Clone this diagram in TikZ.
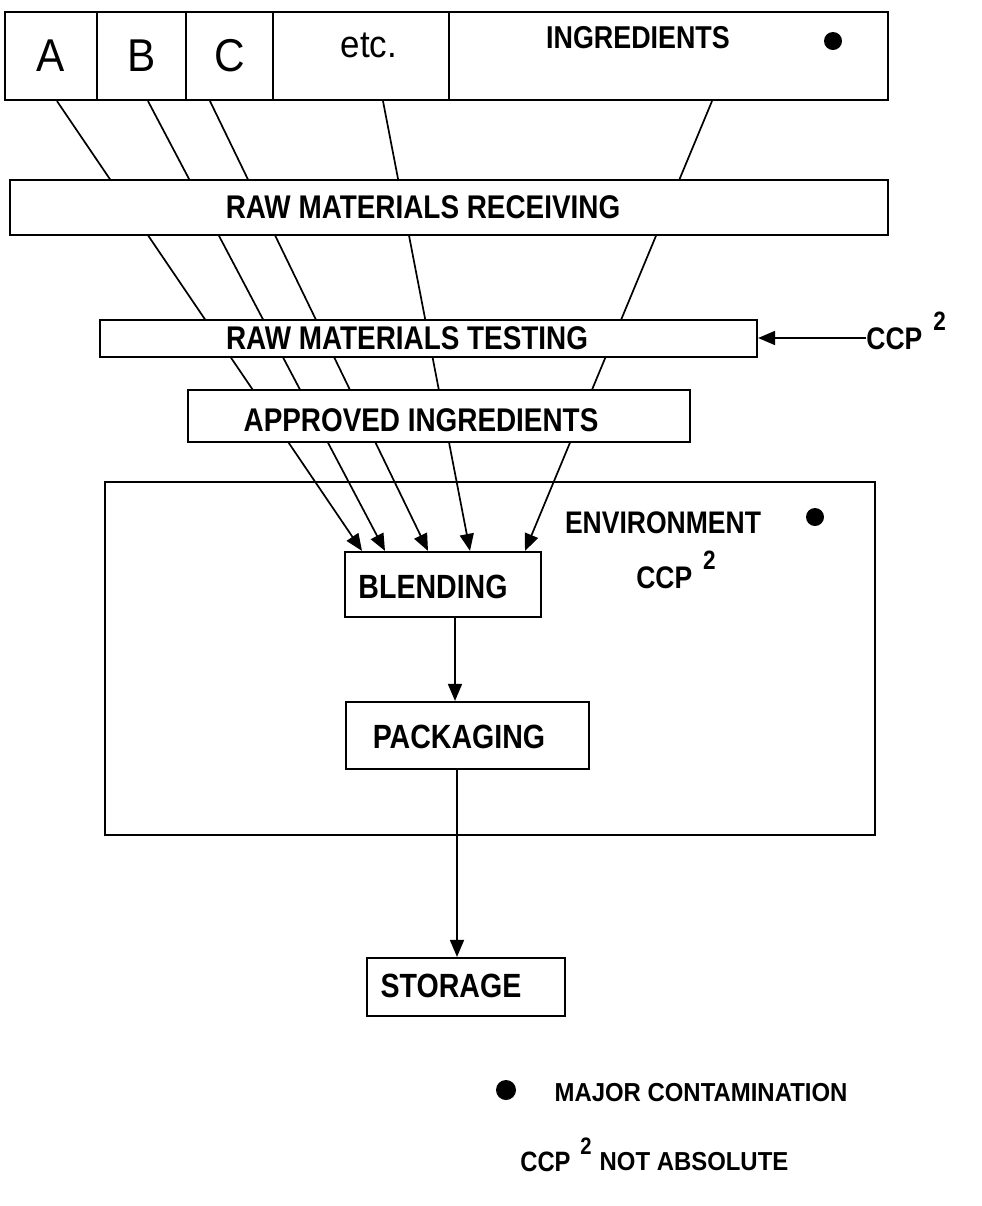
\documentclass[tikz,border=0pt]{standalone}
\usepackage{fontspec}
\setmainfont{Liberation Sans}[FakeStretch=0.92]
\newfontfamily\condfont{Liberation Sans}[FakeStretch=0.85]
\usetikzlibrary{arrows.meta,calc}
\pgfdeclarelayer{background}
\pgfsetlayers{background,main}
\newcommand\ccptwo{CCP\hspace{0.35em}\raisebox{0.62em}{\scalebox{0.85}{2}}}
\begin{document}
\begin{tikzpicture}[x=0.5pt,y=-0.5pt,
 box/.style={draw,line width=1.1pt,fill=white,inner sep=0pt,anchor=center},
 lbl/.style={inner sep=0pt,anchor=center},
 arr/.style={line width=0.85pt,-{Triangle[length=8.5pt,width=7pt]}},
 dot/.style={circle,fill=black,inner sep=0pt,minimum size=9pt},
 fa/.style={font=\fontsize{23}{23}\selectfont},
 fm/.style={font=\fontsize{16.4}{17}\selectfont\condfont\bfseries},
 fe/.style={font=\fontsize{15.6}{16}\selectfont\condfont\bfseries},
 fb/.style={font=\fontsize{16.8}{17}\selectfont\condfont\bfseries},
 fl/.style={font=\fontsize{13}{14}\selectfont\bfseries}]
\useasboundingbox (0,0) rectangle (981,1206);

% top row of ingredients
\node[box,fa,minimum width=46pt,minimum height=44pt] (A) at (51,56) {A};
\node[box,fa,minimum width=44.5pt,minimum height=44pt] (B) at (141.5,56) {B};
\node[box,fa,minimum width=43.5pt,minimum height=44pt] (C) at (229.5,56) {C};
\node[box,minimum width=88pt,minimum height=44pt] (etc) at (361,56) {};
\node[lbl,font=\fontsize{19}{19}\selectfont] (etct) at (369,45) {etc.};
\node[box,minimum width=219.5pt,minimum height=44pt] (ing) at (668.5,56) {};
\node[lbl,font=\fontsize{15.8}{16}\selectfont\condfont\bfseries] (ingt) at (638,38) {INGREDIENTS};
\node[dot] (d1) at (833,41) {};

% process bars
\node[box,minimum width=439pt,minimum height=27.5pt] (recv) at (449,207.5) {};
\node[lbl,fm] (recvt) at (423,207) {RAW MATERIALS RECEIVING};
\node[box,minimum width=328.5pt,minimum height=18.5pt] (test) at (428.5,338.5) {};
\node[lbl,fm] (testt) at (407,338) {RAW MATERIALS TESTING};
\node[box,minimum width=251pt,minimum height=26pt] (appr) at (439,416) {};
\node[lbl,fm] (apprt) at (421,420) {APPROVED INGREDIENTS};
\node[lbl,font=\fontsize{15.6}{16}\selectfont\condfont\bfseries,anchor=west] (ccpR) at (866,331) {\ccptwo};

% environment
\node[draw,line width=1.1pt,minimum width=385pt,minimum height=176.5pt,inner sep=0pt] (env) at (490,658.5) {};
\node[lbl,fe] (envt) at (663,523) {ENVIRONMENT};
\node[dot] (d2) at (815,517) {};
\node[lbl,fe] (envc) at (676,570) {\ccptwo};

\node[box,minimum width=98pt,minimum height=32.5pt] (blend) at (443,584.5) {};
\node[lbl,fb] (blendt) at (433,587) {BLENDING};
\node[box,minimum width=121.5pt,minimum height=33.5pt] (pack) at (467.5,735.5) {};
\node[lbl,fb] (packt) at (459,737) {PACKAGING};
\node[box,minimum width=99pt,minimum height=29pt] (stor) at (466,987) {};
\node[lbl,fb] (stort) at (451,986) {STORAGE};

% legend
\node[dot,minimum size=10pt] (d3) at (506,1090) {};
\node[lbl,fl] (legA) at (701,1093) {MAJOR CONTAMINATION};
\node[lbl,font=\fontsize{14}{14}\selectfont\condfont\bfseries] (legC) at (556,1155) {\ccptwo};
\node[lbl,fl] (legB) at (694,1162) {NOT ABSOLUTE};

% connectors
\coordinate (c1) at (455,0);
\coordinate (c2) at (457,0);
\draw[arr] (blend.south -| c1) -- (pack.north -| c1);
\draw[arr] (pack.south -| c2) -- (stor.north -| c2);
\draw[arr] ([yshift=-3.5pt]ccpR.west) -- ([yshift=-3.5pt]ccpR.west -| test.east);

\begin{pgfonlayer}{background}
\draw[arr] ([xshift=3pt]A.south) -- ([xshift=-40.5pt]blend.north);
\draw[arr] ([xshift=3.25pt]B.south) -- ([xshift=-29pt]blend.north);
\draw[arr] ([xshift=-9.75pt]C.south) -- ([xshift=-7.5pt]blend.north);
\draw[arr] ([xshift=11pt]etc.south) -- ([xshift=13.5pt]blend.north);
\draw[arr] ([xshift=21.75pt]ing.south) -- ([xshift=41pt]blend.north);
\end{pgfonlayer}
\end{tikzpicture}
\end{document}
